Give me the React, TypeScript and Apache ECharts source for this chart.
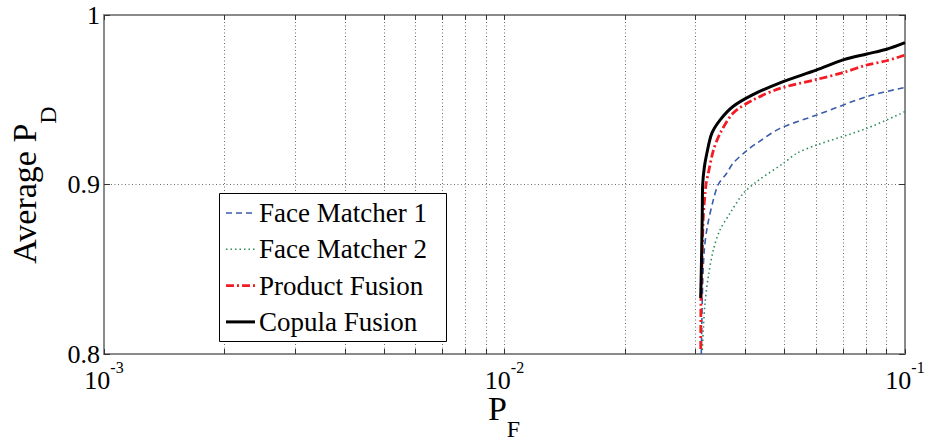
import React, { useEffect, useRef } from "react";
import * as echarts from "echarts";

// P_F (x) and average P_D (y)
const fm1PF = [0.031, 0.03125, 0.03154, 0.03209, 0.03322, 0.03418, 0.03588, 0.0372, 0.04025, 0.04263, 0.04874, 0.0602, 0.08024, 0.1];
const fm1PD = [0.8, 0.8417, 0.8614, 0.8751, 0.8909, 0.9, 0.9066, 0.9125, 0.92, 0.9243, 0.9331, 0.941, 0.9518, 0.9573];

const fm2PF = [0.03118, 0.03136, 0.03167, 0.03227, 0.03322, 0.03452, 0.03656, 0.03947, 0.04263, 0.04967, 0.05366, 0.0602, 0.08024, 0.1];
const fm2PD = [0.8024, 0.8142, 0.83, 0.8456, 0.8614, 0.8732, 0.883, 0.8948, 0.9017, 0.9125, 0.9184, 0.9233, 0.9331, 0.943];

const prodPF = [0.0309, 0.03095, 0.03118, 0.03136, 0.03185, 0.03227, 0.03322, 0.03452, 0.0372, 0.04173, 0.04874, 0.0602, 0.07002, 0.08024, 0.09002, 0.1];
const prodPD = [0.803, 0.833, 0.861, 0.881, 0.9, 0.9066, 0.92, 0.93, 0.942, 0.9499, 0.9567, 0.962, 0.966, 0.9705, 0.973, 0.9764];

const copPF = [0.0309, 0.03107, 0.03118, 0.03125, 0.03154, 0.03198, 0.03291, 0.03452, 0.0372, 0.04173, 0.04874, 0.0602, 0.07002, 0.08024, 0.09002, 0.1];
const copPD = [0.833, 0.861, 0.885, 0.9, 0.91, 0.918, 0.93, 0.938, 0.946, 0.953, 0.96, 0.9676, 0.9735, 0.977, 0.9798, 0.9837];

const seriesNames = ["Face Matcher 1", "Face Matcher 2", "Product Fusion", "Copula Fusion"];

const xMajorTicks = [0.001, 0.01, 0.1];
const xAllTicks = [
  0.001, 0.002, 0.003, 0.004, 0.005, 0.006, 0.007, 0.008, 0.009,
  0.01, 0.02, 0.03, 0.04, 0.05, 0.06, 0.07, 0.08, 0.09, 0.1,
];
const yTicks = [0.8, 0.9, 1];

const FONT = "Liberation Serif";

function pairs(xs: number[], ys: number[]) {
  return xs.map((x, i) => [x, ys[i]]);
}

function nameRich(total: number) {
  return {
    a: { fontFamily: FONT, fontSize: 34, lineHeight: 34, verticalAlign: "top", color: "#000" },
    s: { fontFamily: FONT, fontSize: 24, lineHeight: 24, verticalAlign: "bottom", color: "#000" },
    z: { fontFamily: FONT, fontSize: 4, lineHeight: total, verticalAlign: "bottom", color: "#000" },
  };
}

const lineStyles = [
  { color: "#3a5caa", width: 1.6, type: [6, 4] },
  { color: "#2e8b5a", width: 1.6, type: [1.5, 3] },
  { color: "#f21c24", width: 2.8, type: [8, 3, 2, 3] },
  { color: "#000", width: 3, type: "solid" },
];
const seriesData = [pairs(fm1PF, fm1PD), pairs(fm2PF, fm2PD), pairs(prodPF, prodPD), pairs(copPF, copPD)];

export default function App() {
  const ref = useRef<HTMLDivElement>(null);
  useEffect(() => {
    document.body.style.margin = "0";
    const chart = echarts.init(ref.current!, null, { renderer: "svg" });
    const axisGray = "#8a8a8a";
    const gridStyle = { color: "#6a6a6a", width: 1, type: [1, 2.5] as any };
    chart.setOption({
      animation: false,
      backgroundColor: "#fff",
      grid: { left: 104, top: 15, right: 26, bottom: 90, containLabel: false, outerBoundsMode: "none" },
      xAxis: [
        {
          type: "log",
          logBase: 10,
          min: 0.001,
          max: 0.1,
          name: "{a|P}{s|F}{z| }",
          nameLocation: "middle",
          nameGap: 37,
          nameMoveOverlap: false,
          nameTextStyle: { fontFamily: FONT, rich: nameRich(50) },
          axisLine: { show: true, lineStyle: { color: axisGray, width: 2 } },
          axisTick: { show: true, inside: true, length: 5, customValues: xAllTicks, lineStyle: { color: "#333" } },
          axisLabel: { show: false },
          splitLine: { show: true, lineStyle: gridStyle },
        },
        {
          type: "log",
          logBase: 10,
          min: 0.001,
          max: 0.1,
          position: "top",
          axisLine: { show: true, lineStyle: { color: axisGray, width: 2 } },
          axisTick: { show: true, inside: true, length: 5, customValues: xAllTicks, lineStyle: { color: "#333" } },
          axisLabel: { show: false },
          splitLine: { show: false },
        },
      ],
      yAxis: [
        {
          type: "value",
          min: 0.8,
          max: 1,
          interval: 0.1,
          name: "{a|Average P}{s|D}{z| }",
          nameLocation: "middle",
          nameGap: 44,
          nameMoveOverlap: false,
          nameTextStyle: { fontFamily: FONT, rich: nameRich(53) },
          axisLine: { show: true, lineStyle: { color: axisGray, width: 2 } },
          axisTick: { show: true, inside: true, length: 6, lineStyle: { color: "#333" } },
          axisLabel: { show: false },
          splitLine: { show: true, lineStyle: gridStyle },
        },
        {
          type: "value",
          min: 0.8,
          max: 1,
          interval: 0.1,
          position: "right",
          axisLine: { show: true, lineStyle: { color: axisGray, width: 2 } },
          axisTick: { show: true, inside: true, length: 6, lineStyle: { color: "#333" } },
          axisLabel: { show: false },
          splitLine: { show: false },
        },
      ],
      series: seriesNames.map((name, i) => ({
        name,
        type: "line",
        data: seriesData[i],
        symbol: "none",
        smooth: 0.3,
        lineStyle: lineStyles[i],
        itemStyle: { color: lineStyles[i].color },
      })),
    });

    // tick labels placed through the axes' own scales
    const graphics: any[] = [];
    xMajorTicks.forEach((v) => {
      const px = chart.convertToPixel({ xAxisIndex: 0 }, v) as number;
      graphics.push({
        type: "text",
        x: px,
        y: 359,
        z: 100,
        style: {
          text: `{b|10}{s|${Math.round(Math.log10(v))}}`,
          align: "center",
          verticalAlign: "top",
          fill: "#000",
          rich: {
            b: { fontFamily: FONT, fontSize: 26, lineHeight: 34, verticalAlign: "bottom", fill: "#000" },
            s: { fontFamily: FONT, fontSize: 16, lineHeight: 14, verticalAlign: "top", fill: "#000" },
          },
        },
      });
    });
    yTicks.forEach((v) => {
      const py = chart.convertToPixel({ yAxisIndex: 0 }, v) as number;
      graphics.push({
        type: "text",
        x: 100,
        y: py,
        z: 100,
        style: {
          text: Math.abs(v - 1) < 1e-9 ? "1" : v.toFixed(1),
          align: "right",
          verticalAlign: "middle",
          fill: "#000",
          font: "26px serif",
        },
      });
    });

    // legend box
    const lgX = 219, lgY = 193, lgW = 227, lgH = 148, rowGap = 36.3, firstRow = 20;
    graphics.push({
      type: "rect",
      z: 100,
      shape: { x: lgX + 0.5, y: lgY + 0.5, width: lgW, height: lgH },
      style: { fill: "#fff", stroke: "#000", lineWidth: 1 },
    });
    seriesNames.forEach((name, i) => {
      const ry = lgY + firstRow + i * rowGap;
      const ls = lineStyles[i];
      graphics.push({
        type: "line",
        z: 101,
        shape: { x1: lgX + 7, y1: ry, x2: lgX + 36, y2: ry },
        style: { stroke: ls.color, lineWidth: ls.width, lineDash: ls.type === "solid" ? null : ls.type },
      });
      graphics.push({
        type: "text",
        z: 101,
        x: lgX + 40,
        y: ry,
        style: { text: name, align: "left", verticalAlign: "middle", fill: "#000", font: "27px serif" },
      });
    });
    chart.setOption({ graphic: graphics });
    return () => chart.dispose();
  }, []);
  return <div ref={ref} style={{ width: 931, height: 444 }} />;
}
